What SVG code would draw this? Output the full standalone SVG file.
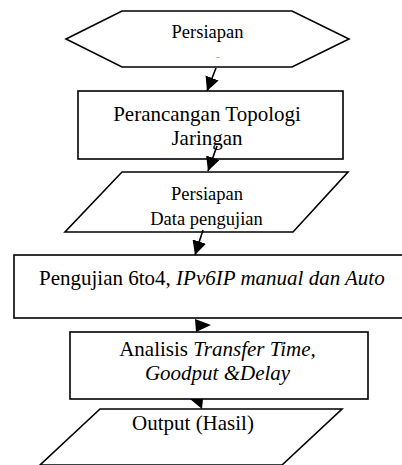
<svg xmlns="http://www.w3.org/2000/svg" width="402" height="465" viewBox="0 0 402 465">
  <style>
    .shape { fill: #ffffff; stroke: #000000; stroke-width: 1.6; }
    .t { font-family: "Liberation Serif", "DejaVu Serif", "Times New Roman", serif; fill: #000000; }
    .main { font-size: 21px; }
    .small { font-size: 18.5px; }
    .it { font-style: italic; }
    .conn { stroke: #000000; stroke-width: 1.6; fill: none; }
  </style>
  <defs>
    <marker id="arrow" markerUnits="userSpaceOnUse" markerWidth="16" markerHeight="16" refX="14" refY="7" orient="auto">
      <path d="M0,0 L14,7 L0,14 Z" fill="#000000"/>
    </marker>
    <clipPath id="clipData">
      <rect x="0" y="0" width="402" height="229"/>
    </clipPath>
  </defs>

  <g id="node-persiapan">
    <polygon class="shape" points="66,39 122,11 292,11 349,39 292,67 122,67"/>
    <text class="t small" x="207.5" y="38" text-anchor="middle">Persiapan</text>
    <text class="t" x="218" y="58" font-size="7" fill="#777777" text-anchor="middle">..</text>
  </g>

  <g id="node-perancangan">
    <rect class="shape" x="78" y="91" width="265" height="68"/>
    <text class="t main" x="207" y="121" text-anchor="middle">Perancangan Topologi</text>
    <text class="t main" x="207" y="145" text-anchor="middle">Jaringan</text>
  </g>

  <g id="node-data">
    <polygon class="shape" points="122,172 348,172 293,232 65,232"/>
    <text class="t small" x="207" y="200" text-anchor="middle">Persiapan</text>
    <text class="t small" x="206.5" y="225" text-anchor="middle" clip-path="url(#clipData)">Data pengujian</text>
  </g>

  <g id="node-pengujian">
    <rect class="shape" x="14" y="255" width="400" height="63"/>
    <text class="t main" x="39" y="285">Pengujian 6to4, <tspan class="it">IPv6IP manual dan Auto</tspan></text>
  </g>

  <g id="node-analisis">
    <rect class="shape" x="70" y="332" width="298" height="67"/>
    <text class="t main" x="217.5" y="356" text-anchor="middle">Analisis <tspan class="it">Transfer Time,</tspan></text>
    <text class="t main it" x="217.5" y="380" text-anchor="middle">Goodput &amp;Delay</text>
  </g>

  <g id="node-output">
    <polygon class="shape" points="100,409 342,409 282,465 40,465"/>
    <text class="t main" x="193" y="430" text-anchor="middle">Output (Hasil)</text>
  </g>

  <g id="connectors">
    <path class="conn" d="M216,68 L207,91" marker-end="url(#arrow)"/>
    <path class="conn" d="M217,146 L208,171" marker-end="url(#arrow)"/>
    <path class="conn" d="M203,230 L195,255" marker-end="url(#arrow)"/>
    <polygon points="195,319 211,325 196,332" fill="#000000"/>
    <polygon points="190,399 203,399 202,409" fill="#000000"/>
  </g>
</svg>
